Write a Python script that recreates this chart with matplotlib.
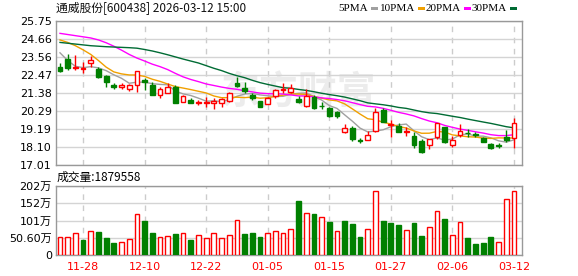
import matplotlib
matplotlib.use("Agg")
import matplotlib.pyplot as plt
from matplotlib.patches import Rectangle
import numpy as np
import pandas as pd

# 通威股份 日K  (60个交易日)
opens = [22.96, 23.42, 22.90, 22.86, 23.22, 22.84, 22.43, 21.85, 21.74, 21.64,
         21.85, 22.17, 21.87, 21.28, 21.40, 21.76, 20.81, 20.95, 20.75, 20.79,
         20.80, 20.75, 20.90, 21.99, 21.68, 21.28, 20.87, 20.71, 21.20, 21.56,
         21.42, 21.02, 20.59, 21.12, 20.61, 20.45, 20.21, 19.03, 19.24, 18.51,
         18.51, 19.07, 20.35, 19.44, 19.38, 19.03, 18.77, 18.47, 18.20, 18.69,
         19.30, 18.20, 18.83, 18.97, 18.89, 18.67, 18.27, 18.20, 18.73, 18.63]
highs = [23.22, 23.73, 23.71, 23.26, 23.63, 22.94, 22.47, 21.99, 21.97, 21.90,
         22.72, 22.27, 22.05, 21.76, 22.01, 21.88, 21.26, 21.10, 20.95, 21.12,
         21.10, 21.06, 21.46, 22.33, 22.07, 21.36, 20.92, 21.16, 21.62, 21.97,
         21.93, 21.22, 21.60, 21.26, 20.85, 20.51, 20.31, 19.50, 19.38, 18.67,
         19.07, 20.45, 20.45, 19.74, 19.58, 19.34, 19.03, 18.57, 18.61, 19.58,
         19.34, 18.77, 19.50, 19.20, 19.03, 18.73, 18.33, 18.37, 19.14, 19.85]
lows = [22.68, 22.78, 22.78, 22.61, 22.98, 22.31, 21.76, 21.62, 21.60, 21.52,
        21.46, 21.56, 21.28, 21.10, 21.40, 20.79, 20.81, 20.78, 20.65, 20.51,
        20.41, 20.51, 20.81, 21.76, 21.40, 20.96, 20.51, 20.71, 21.10, 21.40,
        21.36, 20.75, 20.55, 20.39, 20.39, 19.90, 19.84, 18.93, 18.47, 18.33,
        18.50, 19.03, 19.64, 18.73, 19.03, 18.77, 18.02, 17.76, 18.00, 18.61,
        18.33, 18.08, 18.73, 18.73, 18.69, 18.42, 18.00, 18.06, 18.43, 18.02]
closes = [22.73, 22.92, 22.98, 22.90, 23.36, 22.37, 22.07, 21.72, 21.84, 21.86,
          22.70, 22.05, 21.28, 21.62, 21.74, 20.79, 21.20, 20.79, 20.81, 20.84,
          20.87, 21.00, 21.36, 21.83, 21.52, 21.06, 20.55, 21.10, 21.58, 21.62,
          21.66, 20.85, 21.20, 20.49, 20.57, 19.98, 19.99, 19.24, 18.57, 18.47,
          18.81, 20.25, 19.64, 19.48, 19.03, 19.07, 18.22, 17.82, 18.61, 19.54,
          18.43, 18.53, 19.07, 18.93, 18.85, 18.43, 18.02, 18.16, 18.53, 19.54]
# 成交量 (万手)
volumes = [52.5, 52.5, 64, 45, 70, 68, 49, 35, 39, 47,
           121, 101, 66, 52.5, 56, 62, 64, 45, 58, 51,
           64, 51, 58, 103, 62, 64, 52.5, 64, 70, 64,
           76, 159, 123, 121, 111, 97, 70, 100, 91, 53.5,
           76, 187, 100, 94, 88.5, 74, 94, 56, 82, 129,
           105, 58, 97, 51, 33, 36, 53.5, 38, 163, 187.9558]
first_vol_up = True

# 均线开头几天需要更早的数据，直接从图上读
ma5_head = [23.82, 23.35, 23.00, 22.92]
ma10_head = [24.60, 24.45, 24.25, 24.00, 23.72, 23.35, 22.95, 22.66, 22.54]
ma20_head = [25.00, 24.93, 24.86, 24.79, 24.72, 24.60, 24.43, 24.22, 23.98, 23.72,
             23.50, 23.32, 23.13, 22.98, 22.80, 22.57, 22.36, 22.20, 22.07]
ma30_head = [24.45, 24.40, 24.35, 24.30, 24.25, 24.22, 24.19, 24.17, 24.15, 24.13,
             24.10, 24.02, 23.93, 23.82, 23.70, 23.57, 23.44, 23.32, 23.20, 23.04,
             22.88, 22.74, 22.57, 22.43, 22.31, 22.15, 22.01, 21.90, 21.80]

tick_idx = [3, 11, 19, 27, 35, 43, 51, 59]
tick_labels = ["11-28", "12-10", "12-22", "01-05", "01-15", "01-27", "02-06", "03-12"]
price_ticks = [17.01, 18.1025, 19.195, 20.2875, 21.38, 22.4725, 23.565, 24.6575, 25.75]
price_labels = ["17.01", "18.10", "19.19", "20.29", "21.38", "22.47", "23.56", "24.66", "25.75"]
vol_ticks = [0, 50.6, 101.2, 151.8, 202.4]
vol_labels = ["0", "50.60万", "101万", "152万", "202万"]

RED = "#ff0000"
GREEN = "#008000"
ma_colors = ["#a0a0a0", "#f0a000", "#ff00ff", "#006b34"]
ma_names = ["5PMA", "10PMA", "20PMA", "30PMA"]

o = np.array(opens); h = np.array(highs); l = np.array(lows); c = np.array(closes)
x = np.arange(len(c))
up = c >= o

s = pd.Series(c)
mas = []
for n, head in zip([5, 10, 20, 30], [ma5_head, ma10_head, ma20_head, ma30_head]):
    m = s.rolling(n).mean().to_numpy()
    m[:n - 1] = head
    mas.append(m)

# 量柱颜色按收盘价对比前一日
vol_up = np.r_[first_vol_up, c[1:] >= c[:-1]]

W, H = 578, 276
fig = plt.figure(figsize=(W / 100, H / 100), dpi=100)
ax = fig.add_axes([56 / W, 1 - 165 / H, 466 / W, 144 / H])
axv = fig.add_axes([56 / W, 1 - 255 / H, 466 / W, 69 / H])

tick_font = {"family": ["DejaVu Sans", "Noto Sans CJK SC"], "size": 8}

for a in (ax, axv):
    a.set_xlim(-0.52, 60.05)
    a.set_xticks(tick_idx)
    a.grid(axis="y", color="#d4d4d4", linewidth=1, linestyle="-")
    a.grid(axis="x", color="#cccccc", linewidth=1, linestyle=(0, (4, 4)))
    a.set_axisbelow(True)
    for sp in a.spines.values():
        sp.set_color("#999999")
        sp.set_linewidth(1)
    a.tick_params(length=0, pad=3, labelsize=8, labelcolor="#000000")

# 水印
ax.text(0.52, 0.5, "东方财富", transform=ax.transAxes, ha="center", va="center",
        fontsize=28, color="#ececec", family=["Noto Sans CJK SC"], fontweight="bold", zorder=0)

# 均线
for m, col in zip(mas, ma_colors):
    ax.plot(x, m, color=col, linewidth=1, zorder=2)

# K线
bw = 0.62
for i in x:
    lo_b, hi_b = min(o[i], c[i]), max(o[i], c[i])
    body = max(hi_b - lo_b, 0.03)
    if up[i]:
        ax.vlines(i, l[i], lo_b, color=RED, linewidth=1, zorder=3)
        ax.vlines(i, hi_b, h[i], color=RED, linewidth=1, zorder=3)
        ax.bar(i, body, bottom=lo_b, width=bw, facecolor="white", edgecolor=RED,
               linewidth=1, zorder=4)
    else:
        ax.vlines(i, l[i], h[i], color=GREEN, linewidth=1, zorder=3)
        ax.bar(i, body, bottom=lo_b, width=bw, facecolor=GREEN, edgecolor=GREEN,
               linewidth=1, zorder=4)

ax.set_ylim(17.01, 25.75)
ax.set_yticks(price_ticks)
ax.set_yticklabels(price_labels, fontdict=tick_font)
ax.set_xticklabels([])

# 成交量
v = np.array(volumes)
axv.bar(x[vol_up], v[vol_up], width=0.62, facecolor="white", edgecolor=RED, linewidth=1, zorder=3)
axv.bar(x[~vol_up], v[~vol_up], width=0.62, facecolor=GREEN, edgecolor=GREEN, linewidth=1, zorder=3)
axv.set_ylim(0, 202.4)
axv.set_yticks(vol_ticks)
axv.set_yticklabels(vol_labels, fontdict=tick_font)
axv.set_xticklabels(tick_labels, fontdict={"family": "DejaVu Sans", "size": 8})
axv.tick_params(axis="x", labelcolor=RED, pad=5)

# 标题
fig.text(56 / W, 1 - 9 / H, "通威股份[600438] 2026-03-12 15:00", ha="left", va="center",
         fontsize=8.5, color="#111111", family=["Noto Sans CJK SC", "DejaVu Sans"])
fig.text(57 / W, 1 - 177 / H, "成交量:%d" % round(volumes[-1] * 10000), ha="left", va="center",
         fontsize=8.5, color="#000000", family=["Noto Sans CJK SC", "DejaVu Sans"])

# 图例
leg_x = [338, 380, 426, 472]
for lx, name, col in zip(leg_x, ma_names, ma_colors):
    t = fig.text(lx / W, 1 - 8.5 / H, name, ha="left", va="center", fontsize=8,
                 family="Liberation Serif", color="#000000")
    fig.canvas.draw()
    bb = t.get_window_extent()
    fig.patches.append(Rectangle(((bb.x1 + 3) / W, 1 - 10 / H), 7 / W, 3 / H,
                                 transform=fig.transFigure, facecolor=col, edgecolor="none"))

fig.savefig("out.png", dpi=100)
